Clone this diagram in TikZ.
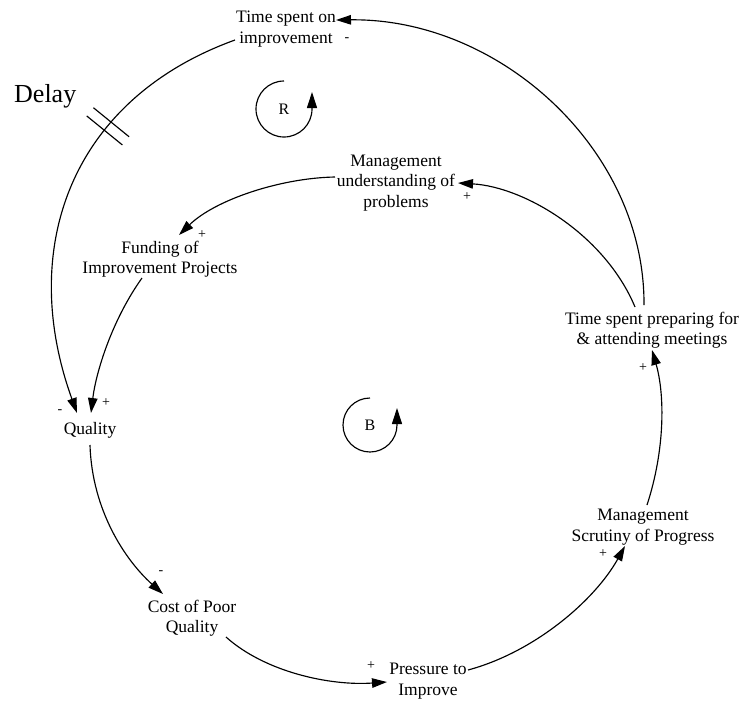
\documentclass[tikz,border=0pt]{standalone}
\usepackage{fontspec}
\setmainfont{Liberation Serif}
\usetikzlibrary{arrows.meta,calc,decorations.markings}
\begin{document}
\begin{tikzpicture}[x=1pt,y=-1pt,
  var/.style={align=center,inner sep=0pt,font=\fontsize{17.5}{20.5}\selectfont},
  sgn/.style={inner sep=0pt,font=\fontsize{14}{14}\selectfont},
  link/.style={line width=1.15pt,-{Triangle[length=15pt,width=9.5pt]}},
  loopar/.style={line width=1.15pt,-{Triangle[length=16pt,width=10pt]}},
  delaymark/.style={postaction={decorate},decoration={markings,mark=at position 0.34 with {\draw[-,line width=1.15pt] (-5.3pt,-23pt) -- (-5.3pt,23pt) (5.3pt,-23pt) -- (5.3pt,23pt);}}}
]
\useasboundingbox (0,0) rectangle (745,702);

% variables
\node[var] (tsi) at (286,29) {Time spent on\\improvement};
\node[var] (mu) at (396,183) {Management\\understanding of\\problems};
\node[var] (fund) at (160,259) {Funding of\\Improvement Projects};
\node[var] (tsp) at (652,330) {Time spent preparing for\\\& attending meetings};
\node[var] (qual) at (90,430) {Quality};
\node[var] (cost) at (192,618) {Cost of Poor\\Quality};
\node[var] (press) at (428,681) {Pressure to\\Improve};
\node[var] (scrut) at (643,527) {Management\\Scrutiny of Progress};
\node[inner sep=0pt,anchor=base west,font=\fontsize{26}{26}\selectfont] (delay) at (14,102) {Delay};

% loop markers
\node[var,font=\fontsize{16}{16}\selectfont] (R) at (284,109) {R};
\node[var,font=\fontsize{16}{16}\selectfont] (B) at (370,425) {B};
\draw[loopar] ($(R.center)+(0,-28)$) arc[start angle=90,end angle=360,radius=28pt] -- ++(0,-17);
\draw[loopar] ($(B.center)+(0,-27)$) arc[start angle=90,end angle=360,radius=27pt] -- ++(0,-17);

% polarity signs
\node[sgn] (s1) at (347,40) {-};
\node[sgn] (s2) at (467,197) {+};
\node[sgn] (s3) at (202,235) {+};
\node[sgn] (s4) at (643,368) {+};
\node[sgn] (s5) at (60,412) {-};
\node[sgn] (s6) at (106,403) {+};
\node[sgn] (s7) at (161,573) {-};
\node[sgn] (s8) at (371,666) {+};
\node[sgn] (s9) at (603,554) {+};

% connectors
\draw[link] ($(tsp.center)+(-8,-25)$) .. controls (645,150) and (500,18) .. ($(tsi.center)+(50,-9)$);
\draw[link,delaymark] ($(tsi.center)+(-51,11)$) .. controls (70.5,99.5) and (17.5,248.5) .. ($(qual.center)+(-13,-17)$);
\draw[link] ($(tsp.center)+(-17,-23)$) .. controls (605,235) and (525,187) .. ($(mu.center)+(62,0)$);
\draw[link] ($(mu.center)+(-61,-6)$) .. controls (280,178) and (215,200) .. ($(fund.center)+(19,-24)$);
\draw[link] ($(fund.center)+(-18,19)$) .. controls (112,320) and (96,372) .. ($(qual.center)+(1,-17)$);
\draw[link] ($(qual.center)+(0,15)$) .. controls (92,510) and (125,560) .. ($(cost.center)+(-29,-24)$);
\draw[link] ($(cost.center)+(34,19)$) .. controls (265,672) and (330,686) .. ($(press.center)+(-41,1)$);
\draw[link] ($(press.center)+(40,-11)$) .. controls (535,652) and (595,600) .. ($(scrut.center)+(-18,19)$);
\draw[link] ($(scrut.center)+(4,-22)$) .. controls (665,450) and (665,395) .. ($(tsp.center)+(0,20)$);
\end{tikzpicture}
\end{document}
